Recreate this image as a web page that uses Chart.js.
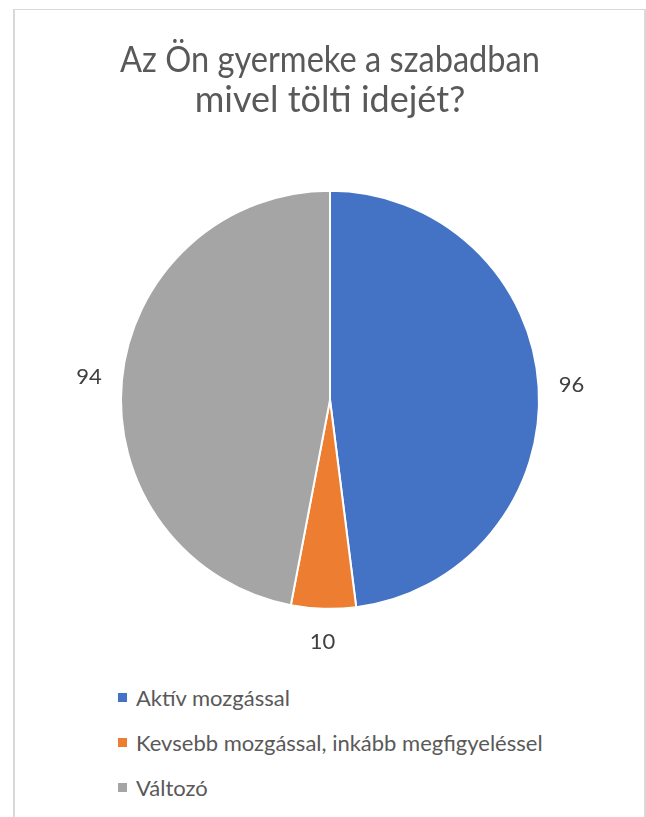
<!DOCTYPE html>
<html>
<head>
<meta charset="utf-8">
<script src="https://cdn.jsdelivr.net/npm/chart.js@4/dist/chart.umd.min.js"></script>
<style>
  html, body { margin: 0; padding: 0; background: #fff; }
  body { width: 646px; height: 817px; position: relative; overflow: hidden; font-family: Lato, 'Open Sans', sans-serif; }
  .frame {
    position: absolute; left: 13px; top: 9px; width: 629px; height: 900px;
    border-left: 2px solid #d9d9d9; border-top: 1px solid #d9d9d9; border-right: 2px solid #d9d9d9;
  }
  .chart-box { position: absolute; left: 14px; top: 10px; width: 630px; height: 660px; }
  .legend { position: absolute; left: 118px; top: 675px; }
  .legend-row { height: 45px; display: flex; align-items: center; color: #595959; font-size: 22px; }
  .legend-box { width: 9px; height: 9px; margin-right: 9px; }
</style>
</head>
<body>
<div class="frame"></div>
<div class="chart-box"><canvas id="pie"></canvas></div>
<div class="legend" id="legend"></div>
<script>
  const titleLines = ['Az Ön gyermeke a szabadban', 'mivel tölti idejét?'];
  const categories = ['Aktív mozgással', 'Kevsebb mozgással, inkább megfigyeléssel', 'Változó'];
  const values = [96, 10, 94];
  const colors = ['#4472C4', '#ED7D31', '#A5A5A5'];

  // value labels outside each slice, placed from the arc geometry
  const outsideLabels = {
    id: 'outsideLabels',
    afterDatasetsDraw(chart) {
      const ctx = chart.ctx;
      const meta = chart.getDatasetMeta(0);
      ctx.save();
      ctx.font = '22px Lato, "Open Sans", sans-serif';
      ctx.fillStyle = '#404040';
      ctx.textAlign = 'center';
      ctx.textBaseline = 'middle';
      meta.data.forEach((arc, i) => {
        const mid = (arc.startAngle + arc.endAngle) / 2;
        const d = arc.outerRadius + 33;
        ctx.fillText(String(values[i]), arc.x + Math.cos(mid) * d, arc.y + Math.sin(mid) * d);
      });
      ctx.restore();
    }
  };

  new Chart(document.getElementById('pie'), {
    type: 'pie',
    data: {
      labels: categories,
      datasets: [{
        data: values,
        backgroundColor: colors,
        borderColor: '#ffffff',
        borderWidth: 2
      }]
    },
    options: {
      responsive: true,
      maintainAspectRatio: false,
      animation: false,
      layout: { padding: { left: 106, right: 104, top: 0, bottom: 60 } },
      plugins: {
        legend: { display: false },
        tooltip: { enabled: false },
        title: {
          display: true,
          text: titleLines,
          color: '#595959',
          font: { family: 'Lato, "Open Sans", sans-serif', size: 36, weight: 'normal', lineHeight: 1.12 },
          padding: { top: 30, bottom: 69 }
        }
      }
    },
    plugins: [outsideLabels]
  });

  const legend = document.getElementById('legend');
  categories.forEach((name, i) => {
    const row = document.createElement('div');
    row.className = 'legend-row';
    const box = document.createElement('span');
    box.className = 'legend-box';
    box.style.background = colors[i];
    const txt = document.createElement('span');
    txt.textContent = name;
    row.appendChild(box);
    row.appendChild(txt);
    legend.appendChild(row);
  });
</script>
</body>
</html>
